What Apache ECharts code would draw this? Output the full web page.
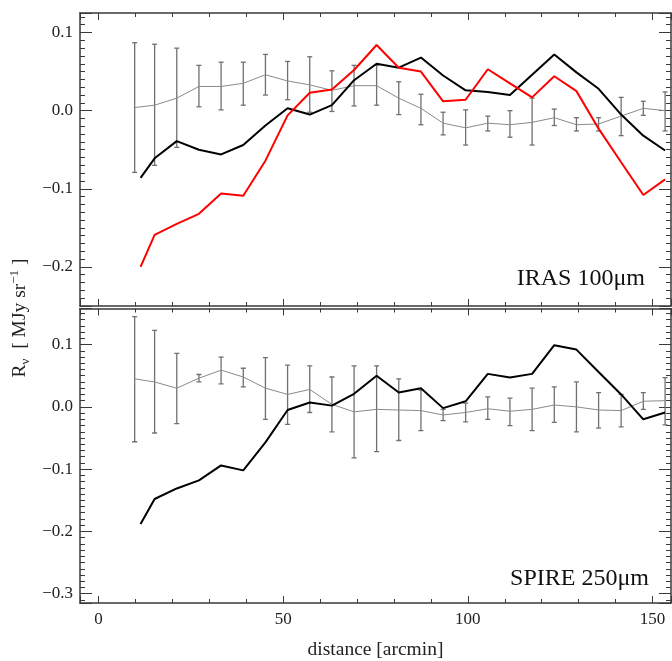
<!DOCTYPE html>
<html>
<head>
<meta charset="utf-8">
<script src="https://cdn.jsdelivr.net/npm/echarts@6/dist/echarts.min.js"></script>
<style>
html,body{margin:0;padding:0;background:#fff;}
#chart{width:672px;height:661px;}
</style>
</head>
<body>
<div id="chart"></div>
<script>
// ---------- data ----------
const xErr  = [9.8, 15.2, 21.2, 27.2, 33.2, 39.2, 45.2, 51.2, 57.2, 63.2, 69.2, 75.3, 81.3, 87.3, 93.3, 99.4, 105.4, 111.4, 117.4, 123.4, 129.4, 135.4, 141.5, 147.5, 153.4];
const xLine = [11.4, 15.2, 21.2, 27.2, 33.2, 39.2, 45.2, 51.2, 57.2, 63.2, 69.2, 75.3, 81.3, 87.3, 93.3, 99.4, 105.4, 111.4, 117.4, 123.4, 129.4, 135.4, 141.5, 147.5, 153.4];

// IRAS 100um panel
const irasGray   = [0.004, 0.007, 0.016, 0.031, 0.031, 0.035, 0.046, 0.038, 0.033, 0.026, 0.032, 0.032, 0.016, 0.003, -0.016, -0.022, -0.016, -0.018, -0.015, -0.009, -0.018, -0.017, -0.007, 0.003, 0.000];
const irasGrayLo = [-0.079, -0.070, -0.047, 0.005, 0.001, 0.007, 0.020, 0.014, -0.002, -0.001, 0.006, 0.007, -0.005, -0.018, -0.031, -0.044, -0.026, -0.034, -0.044, -0.019, -0.026, -0.026, -0.032, -0.006, -0.026];
const irasGrayHi = [0.087, 0.085, 0.080, 0.058, 0.062, 0.062, 0.072, 0.063, 0.069, 0.051, 0.058, 0.058, 0.037, 0.021, -0.002, 0.001, -0.007, 0.000, 0.016, 0.002, -0.009, -0.009, 0.017, 0.012, 0.024];
const irasBlack  = [-0.086, -0.061, -0.039, -0.050, -0.056, -0.044, -0.019, 0.003, -0.005, 0.007, 0.039, 0.060, 0.055, 0.068, 0.045, 0.026, 0.024, 0.020, 0.046, 0.072, 0.049, 0.028, -0.005, -0.032, -0.051];
const irasRed    = [-0.200, -0.159, -0.145, -0.132, -0.106, -0.109, -0.064, -0.006, 0.023, 0.027, 0.052, 0.084, 0.055, 0.050, 0.012, 0.014, 0.053, 0.035, 0.017, 0.044, 0.025, -0.023, -0.066, -0.108, -0.088];

// SPIRE 250um panel
const spireGray   = [0.045, 0.040, 0.030, 0.046, 0.059, 0.048, 0.030, 0.020, 0.028, 0.004, -0.008, -0.004, -0.005, -0.006, -0.013, -0.009, -0.003, -0.007, -0.004, 0.003, 0.000, -0.005, -0.006, 0.009, 0.010];
const spireGrayLo = [-0.056, -0.042, -0.027, 0.040, 0.037, 0.032, -0.020, -0.028, -0.009, -0.040, -0.082, -0.072, -0.054, -0.038, -0.022, -0.024, -0.020, -0.030, -0.038, -0.025, -0.040, -0.034, -0.032, -0.004, -0.029];
const spireGrayHi = [0.145, 0.123, 0.086, 0.052, 0.080, 0.062, 0.079, 0.067, 0.066, 0.048, 0.066, 0.066, 0.045, 0.027, -0.004, 0.006, 0.016, 0.014, 0.030, 0.032, 0.040, 0.023, 0.020, 0.023, 0.047];
const spireBlack  = [-0.188, -0.148, -0.131, -0.118, -0.094, -0.102, -0.057, -0.005, 0.007, 0.002, 0.021, 0.050, 0.023, 0.030, -0.002, 0.009, 0.053, 0.047, 0.053, 0.099, 0.092, 0.056, 0.020, -0.020, -0.009];

const xTickLabels = ['0', '50', '100', '150'];
const panelLabels = ['IRAS 100\u03bcm', 'SPIRE 250\u03bcm'];
const xTitle = 'distance [arcmin]';

// ---------- chart ----------
const FONT = '"Liberation Serif", "DejaVu Serif", serif';
const AX = '#3a3a3a';
const pairs = (xs, ys) => xs.map((x, i) => [x, ys[i]]);
const triples = (xs, lo, hi) => xs.map((x, i) => [x, lo[i], hi[i]]);
const fmtY = v => {
  const a = Math.abs(v).toFixed(1);
  return (v < -1e-9 ? '\u2212' : '') + a;
};

function xAxisCfg(grid, pos, labels) {
  return {
    type: 'value', gridIndex: grid, position: pos,
    min: -5, max: 155, splitNumber: 3, minInterval: 50, maxInterval: 50,
    axisLine: { show: true, onZero: false, lineStyle: { color: AX, width: 1.5 } },
    axisTick: { show: true, inside: true, length: 7, lineStyle: { color: AX, width: 1 } },
    minorTick: { show: true, splitNumber: 5, length: 4, lineStyle: { color: AX, width: 1 } },
    splitLine: { show: false },
    axisLabel: {
      show: labels, showMinLabel: false, showMaxLabel: false, margin: 8,
      color: '#222', fontFamily: FONT, fontSize: 17,
      formatter: v => { const i = [0, 50, 100, 150].indexOf(Math.round(v)); return i >= 0 ? xTickLabels[i] : ''; }
    },
    name: labels ? xTitle : '', nameLocation: 'middle', nameGap: 37,
    nameTextStyle: { color: '#222', fontFamily: FONT, fontSize: 19.5 }
  };
}
function yAxisCfg(grid, pos, labels, mn, mx) {
  return {
    type: 'value', gridIndex: grid, position: pos,
    min: mn, max: mx, minInterval: 0.1, maxInterval: 0.1,
    axisLine: { show: true, onZero: false, lineStyle: { color: AX, width: 1.5 } },
    axisTick: { show: true, inside: true, length: 12, lineStyle: { color: AX, width: 1 } },
    minorTick: { show: true, splitNumber: 10, length: 5, lineStyle: { color: AX, width: 1 } },
    splitLine: { show: false },
    axisLabel: {
      show: labels, showMinLabel: false, showMaxLabel: false, margin: 7,
      color: '#222', fontFamily: FONT, fontSize: 17, formatter: fmtY
    }
  };
}

function errSeries(xIdx, yIdx, data) {
  return {
    type: 'custom', xAxisIndex: xIdx, yAxisIndex: yIdx, data: data,
    encode: { x: 0, y: [1, 2] }, clip: true, z: 2,
    renderItem: function (params, api) {
      const x = api.value(0);
      const a = api.coord([x, api.value(1)]);
      const b = api.coord([x, api.value(2)]);
      const c = 2.5;
      const st = { stroke: '#707070', lineWidth: 1.3 };
      return {
        type: 'group', children: [
          { type: 'line', shape: { x1: a[0], y1: a[1], x2: b[0], y2: b[1] }, style: st },
          { type: 'line', shape: { x1: a[0] - c, y1: a[1], x2: a[0] + c, y2: a[1] }, style: st },
          { type: 'line', shape: { x1: b[0] - c, y1: b[1], x2: b[0] + c, y2: b[1] }, style: st }
        ]
      };
    }
  };
}
function lineSeries(xIdx, yIdx, data, color, width, z) {
  return {
    type: 'line', xAxisIndex: xIdx, yAxisIndex: yIdx, data: data,
    symbol: 'none', clip: true, z: z, animation: false,
    lineStyle: { color: color, width: width }, itemStyle: { color: color }
  };
}

const chart = echarts.init(document.getElementById('chart'), null, { renderer: 'canvas' });
chart.setOption({
  animation: false,
  backgroundColor: '#fff',
  grid: [
    { left: 80, top: 13, width: 591, height: 293 },
    { left: 80, top: 308.5, width: 591, height: 296 }
  ],
  xAxis: [
    xAxisCfg(0, 'bottom', false),
    xAxisCfg(0, 'top', false),
    xAxisCfg(1, 'bottom', true),
    xAxisCfg(1, 'top', false)
  ],
  yAxis: [
    yAxisCfg(0, 'left', true, -0.25, 0.125),
    yAxisCfg(0, 'right', false, -0.25, 0.125),
    yAxisCfg(1, 'left', true, -0.315, 0.158),
    yAxisCfg(1, 'right', false, -0.315, 0.158)
  ],
  series: [
    errSeries(0, 0, triples(xErr, irasGrayLo, irasGrayHi)),
    lineSeries(0, 0, pairs(xErr, irasGray), '#8a8a8a', 1, 3),
    lineSeries(0, 0, pairs(xLine, irasBlack), '#000000', 2, 4),
    lineSeries(0, 0, pairs(xLine, irasRed), '#ff0000', 2, 5),
    errSeries(2, 2, triples(xErr, spireGrayLo, spireGrayHi)),
    lineSeries(2, 2, pairs(xErr, spireGray), '#8a8a8a', 1, 3),
    lineSeries(2, 2, pairs(xLine, spireBlack), '#000000', 2, 4)
  ],
  graphic: [
    {
      type: 'text', x: 645, y: 279,
      style: { text: panelLabels[0], align: 'right', verticalAlign: 'middle', fontFamily: FONT, fontSize: 24, fill: '#111' }
    },
    {
      type: 'text', x: 649, y: 578.5,
      style: { text: panelLabels[1], align: 'right', verticalAlign: 'middle', fontFamily: FONT, fontSize: 24, fill: '#111' }
    },
    {
      type: 'text', x: 20, y: 318, rotation: Math.PI / 2,
      style: {
        text: '{m|R}{sub|\u03bd}{m|  [ MJy sr}{sup|\u22121}{m| ]}',
        align: 'center', verticalAlign: 'middle',
        rich: {
          m: { fontFamily: FONT, fontSize: 19.5, lineHeight: 24, fill: '#222' },
          sub: { fontFamily: FONT, fontSize: 13, lineHeight: 13, verticalAlign: 'bottom', fill: '#222' },
          sup: { fontFamily: FONT, fontSize: 13, lineHeight: 13, verticalAlign: 'top', fill: '#222' }
        }
      }
    }
  ]
});
</script>
</body>
</html>
